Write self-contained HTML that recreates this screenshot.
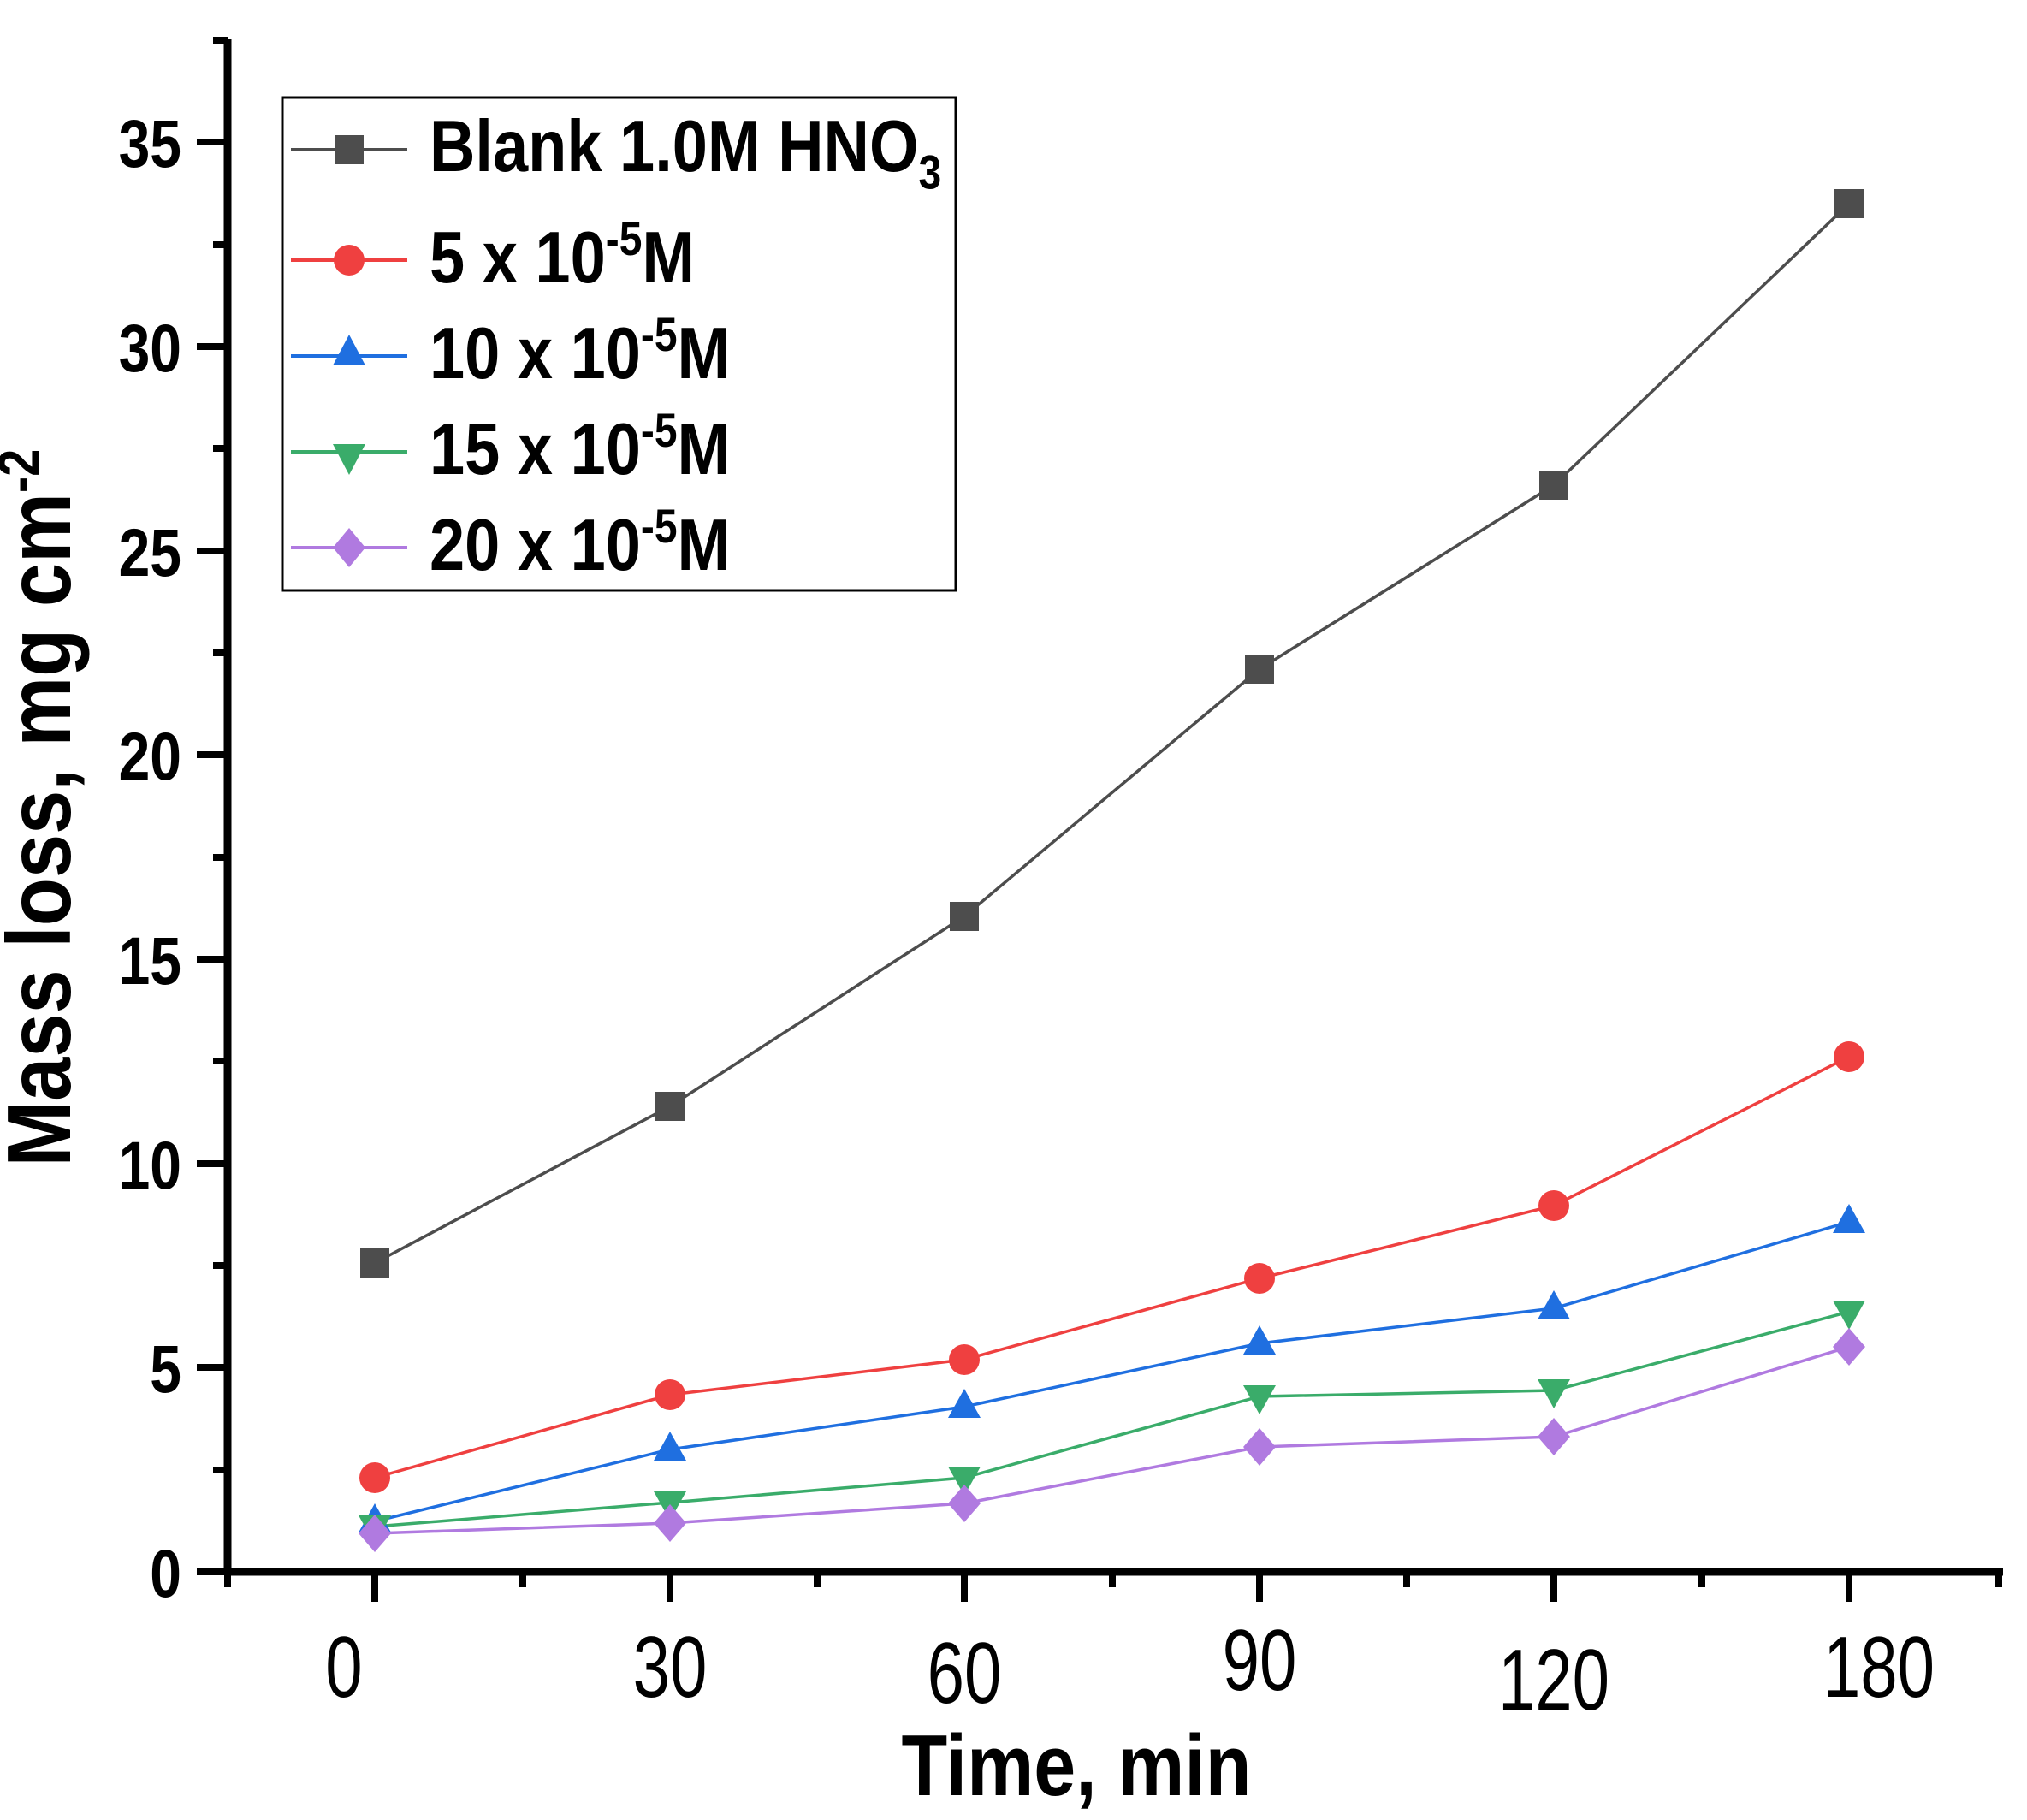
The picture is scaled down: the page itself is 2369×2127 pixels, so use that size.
<!DOCTYPE html>
<html><head><meta charset="utf-8"><style>
html,body{margin:0;padding:0;background:#fff;}
svg{display:block;}
text{font-family:"Liberation Sans",Arial,sans-serif;}
</style></head><body>
<svg width="2369" height="2127" viewBox="0 0 2369 2127" xmlns="http://www.w3.org/2000/svg">
<rect width="2369" height="2127" fill="#fff"/>
<line x1="266" y1="45" x2="266" y2="1841" stroke="#000" stroke-width="9"/>
<line x1="262" y1="1837" x2="2341" y2="1837" stroke="#000" stroke-width="9"/>
<g stroke="#000" stroke-width="8">
<line x1="230" y1="1837" x2="266" y2="1837"/>
<line x1="230" y1="1598" x2="266" y2="1598"/>
<line x1="230" y1="1360" x2="266" y2="1360"/>
<line x1="230" y1="1121" x2="266" y2="1121"/>
<line x1="230" y1="882" x2="266" y2="882"/>
<line x1="230" y1="644" x2="266" y2="644"/>
<line x1="230" y1="405" x2="266" y2="405"/>
<line x1="230" y1="166" x2="266" y2="166"/>
<line x1="249" y1="1718" x2="266" y2="1718"/>
<line x1="249" y1="1479" x2="266" y2="1479"/>
<line x1="249" y1="1240" x2="266" y2="1240"/>
<line x1="249" y1="1002" x2="266" y2="1002"/>
<line x1="249" y1="763" x2="266" y2="763"/>
<line x1="249" y1="524" x2="266" y2="524"/>
<line x1="249" y1="286" x2="266" y2="286"/>
<line x1="249" y1="47" x2="266" y2="47"/>
<line x1="438" y1="1837" x2="438" y2="1872"/>
<line x1="783" y1="1837" x2="783" y2="1872"/>
<line x1="1127" y1="1837" x2="1127" y2="1872"/>
<line x1="1472" y1="1837" x2="1472" y2="1872"/>
<line x1="1816" y1="1837" x2="1816" y2="1872"/>
<line x1="2161" y1="1837" x2="2161" y2="1872"/>
<line x1="266" y1="1837" x2="266" y2="1855"/>
<line x1="611" y1="1837" x2="611" y2="1855"/>
<line x1="955" y1="1837" x2="955" y2="1855"/>
<line x1="1300" y1="1837" x2="1300" y2="1855"/>
<line x1="1644" y1="1837" x2="1644" y2="1855"/>
<line x1="1989" y1="1837" x2="1989" y2="1855"/>
<line x1="2336" y1="1837" x2="2336" y2="1855"/>
</g>
<g font-size="66" font-weight="bold" text-anchor="end">
<text transform="translate(212,1866) scale(1,1.2)">0</text>
<text transform="translate(212,1627) scale(1,1.2)">5</text>
<text transform="translate(212,1389) scale(1,1.2)">10</text>
<text transform="translate(212,1150) scale(1,1.2)">15</text>
<text transform="translate(212,911) scale(1,1.2)">20</text>
<text transform="translate(212,673) scale(1,1.2)">25</text>
<text transform="translate(212,434) scale(1,1.2)">30</text>
<text transform="translate(212,195) scale(1,1.2)">35</text>
</g>
<g font-size="78" text-anchor="middle">
<text transform="translate(402,1983) scale(1,1.3)">0</text>
<text transform="translate(783,1983) scale(1,1.3)">30</text>
<text transform="translate(1127,1990) scale(1,1.3)">60</text>
<text transform="translate(1472,1975) scale(1,1.3)">90</text>
<text transform="translate(1816,1998) scale(1,1.3)">120</text>
<text transform="translate(2196,1983) scale(1,1.3)">180</text>
</g>
<text transform="translate(1258,2098) scale(1,1.15)" font-size="88" font-weight="bold" text-anchor="middle">Time, min</text>
<text transform="translate(82,944) rotate(-90) scale(1,1.15)" font-size="92" font-weight="bold" text-anchor="middle">Mass loss, mg cm<tspan dy="-32" font-size="58">-2</tspan></text>

<g fill="none" stroke-width="3.5">
<polyline stroke="#4d4d4d" points="438,1476 783,1293 1127,1071 1472,782 1816,567 2161,238"/>
<polyline stroke="#ef4040" points="438,1727 783,1630 1127,1589 1472,1494 1816,1409 2161,1235"/>
<polyline stroke="#1f6fe0" points="438,1778 783,1694 1127,1644 1472,1570 1816,1529 2161,1428"/>
<polyline stroke="#3aac6a" points="438,1784 783,1756 1127,1727 1472,1632 1816,1625 2161,1533"/>
<polyline stroke="#b07ae0" points="438,1792 783,1780 1127,1757 1472,1691 1816,1679 2161,1574"/>
</g>
<g fill="#4d4d4d">
<rect x="421" y="1459" width="34" height="34"/><rect x="766" y="1276" width="34" height="34"/><rect x="1110" y="1054" width="34" height="34"/><rect x="1455" y="765" width="34" height="34"/><rect x="1799" y="550" width="34" height="34"/><rect x="2144" y="221" width="34" height="34"/>
</g>
<g fill="#ef4040">
<circle cx="438" cy="1727" r="18"/><circle cx="783" cy="1630" r="18"/><circle cx="1127" cy="1589" r="18"/><circle cx="1472" cy="1494" r="18"/><circle cx="1816" cy="1409" r="18"/><circle cx="2161" cy="1235" r="18"/>
</g>
<g fill="#1f6fe0">
<polygon points="438,1757 419,1791 457,1791"/><polygon points="783,1673 764,1707 802,1707"/><polygon points="1127,1623 1108,1657 1146,1657"/><polygon points="1472,1549 1453,1583 1491,1583"/><polygon points="1816,1508 1797,1542 1835,1542"/><polygon points="2161,1407 2142,1441 2180,1441"/>
</g>
<g fill="#3aac6a">
<polygon points="438,1805 419,1771 457,1771"/><polygon points="783,1777 764,1743 802,1743"/><polygon points="1127,1748 1108,1714 1146,1714"/><polygon points="1472,1653 1453,1619 1491,1619"/><polygon points="1816,1646 1797,1612 1835,1612"/><polygon points="2161,1554 2142,1520 2180,1520"/>
</g>
<g fill="#b07ae0">
<polygon points="438,1770 457,1792 438,1814 419,1792"/><polygon points="783,1758 802,1780 783,1802 764,1780"/><polygon points="1127,1735 1146,1757 1127,1779 1108,1757"/><polygon points="1472,1669 1491,1691 1472,1713 1453,1691"/><polygon points="1816,1657 1835,1679 1816,1701 1797,1679"/><polygon points="2161,1552 2180,1574 2161,1596 2142,1574"/>
</g>

<rect x="330" y="114" width="787" height="576" fill="#fff" stroke="#000" stroke-width="3"/>
<g stroke-width="4">
<line x1="340" y1="175" x2="476" y2="175" stroke="#4d4d4d"/>
<line x1="340" y1="304" x2="476" y2="304" stroke="#ef4040"/>
<line x1="340" y1="416" x2="476" y2="416" stroke="#1f6fe0"/>
<line x1="340" y1="528" x2="476" y2="528" stroke="#3aac6a"/>
<line x1="340" y1="640" x2="476" y2="640" stroke="#b07ae0"/>
</g>
<rect x="391" y="158" width="34" height="34" fill="#4d4d4d"/>
<circle cx="408" cy="304" r="18" fill="#ef4040"/>
<polygon points="408,391 389,427 427,427" fill="#1f6fe0"/>
<polygon points="408,555 389,519 427,519" fill="#3aac6a"/>
<polygon points="408,617 427,640 408,663 389,640" fill="#b07ae0"/>
<g font-size="74" font-weight="bold">
<text transform="translate(502,200) scale(1,1.15)">Blank 1.0M HNO<tspan dy="18" font-size="48">3</tspan></text>
<text transform="translate(502,330) scale(1,1.15)">5 x 10<tspan dy="-28" font-size="48">-5</tspan><tspan dy="28">M</tspan></text>
<text transform="translate(502,442) scale(1,1.15)">10 x 10<tspan dy="-28" font-size="48">-5</tspan><tspan dy="28">M</tspan></text>
<text transform="translate(502,554) scale(1,1.15)">15 x 10<tspan dy="-28" font-size="48">-5</tspan><tspan dy="28">M</tspan></text>
<text transform="translate(502,666) scale(1,1.15)">20 x 10<tspan dy="-28" font-size="48">-5</tspan><tspan dy="28">M</tspan></text>
</g>
</svg>
</body></html>
